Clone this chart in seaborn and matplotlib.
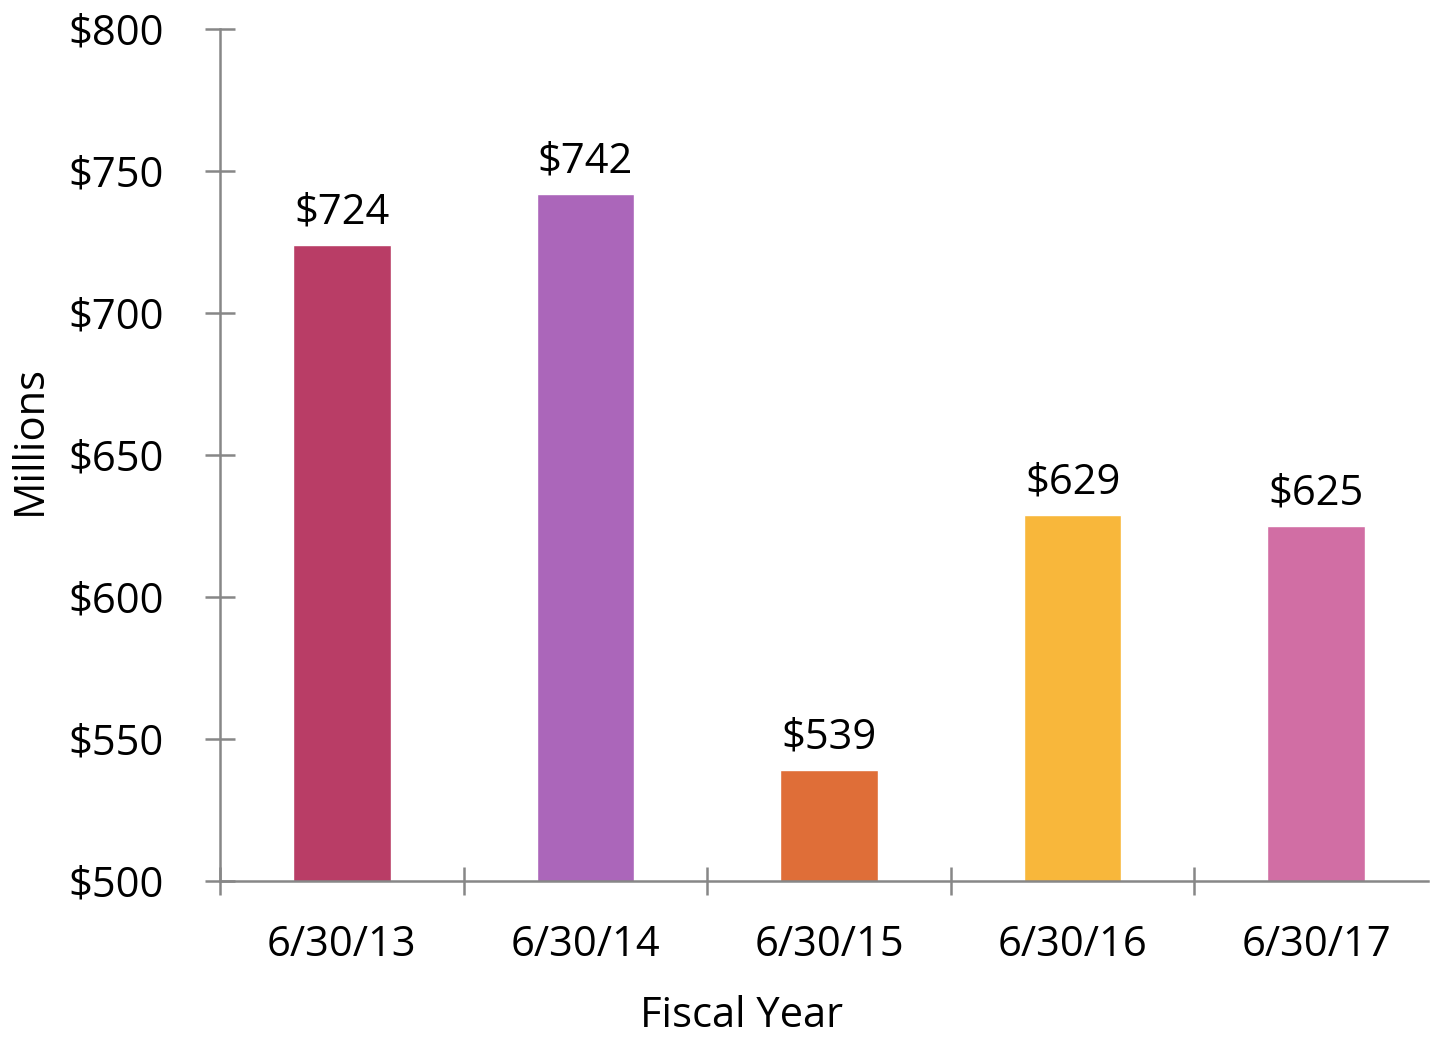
import matplotlib
matplotlib.use("Agg")
import matplotlib.pyplot as plt
import seaborn as sns
import pandas as pd

categories = ["6/30/13", "6/30/14", "6/30/15", "6/30/16", "6/30/17"]
values = [724, 742, 539, 629, 625]
labels = ["$724", "$742", "$539", "$629", "$625"]
colors = ["#B93D66", "#AB66BA", "#DF6E38", "#F8B73B", "#D16EA4"]
yticks = [500, 550, 600, 650, 700, 750, 800]
ytick_labels = ["$500", "$550", "$600", "$650", "$700", "$750", "$800"]

sns.set_theme(style="white")
plt.rcParams["font.family"] = ["Open Sans", "DejaVu Sans"]

df = pd.DataFrame({"cat": categories, "val": values})

W, H = 1430, 1038
ax_l, ax_b, ax_w, ax_h = 220, 157, 1218, 852
fig = plt.figure(figsize=(W / 100, H / 100), dpi=100)
ax = fig.add_axes([ax_l / W, ax_b / H, ax_w / W, ax_h / H])

sns.barplot(data=df, x="cat", y="val", hue="cat", palette=colors, width=0.4,
            legend=False, ax=ax, saturation=1)

ax.set_ylim(500, 800)
ax.set_xlim(-0.5, 4.5)
ax.set_yticks(yticks)
ax.set_yticklabels(ytick_labels, fontsize=30, color="black")

ax.set_xticks(range(len(categories)))
ax.set_xticklabels(categories, fontsize=30, color="black")
ax.set_xticks([i - 0.5 for i in range(len(categories) + 1)], minor=True)

grey = "#878787"
for s in ["top", "right"]:
    ax.spines[s].set_visible(False)
for s in ["left", "bottom"]:
    ax.spines[s].set_color(grey)
    ax.spines[s].set_linewidth(1.8)
ax.spines["bottom"].set_bounds(-0.5, 4.5 - 10 / 243.6)

ax.tick_params(axis="y", which="major", direction="inout", length=21, width=1.8,
               color=grey, pad=30, left=True)
ax.tick_params(axis="x", which="major", length=0, pad=31)
ax.tick_params(axis="x", which="minor", direction="inout", length=20, width=1.8,
               color=grey, bottom=True)

for i, (v, t) in enumerate(zip(values, labels)):
    ax.text(i, v + 4, t, ha="center", va="bottom", fontsize=30, color="black")

ax.set_xlabel("Fiscal Year", fontsize=30, color="black", va="center")
ax.xaxis.set_label_coords((742 - ax_l) / ax_w, -(1016 - 881) / ax_h)
ax.set_ylabel("Millions", fontsize=30, color="black", va="center")
ax.yaxis.set_label_coords(-(ax_l - 30) / ax_w, (881 - 440) / ax_h)

fig.savefig("out.png", dpi=100)
